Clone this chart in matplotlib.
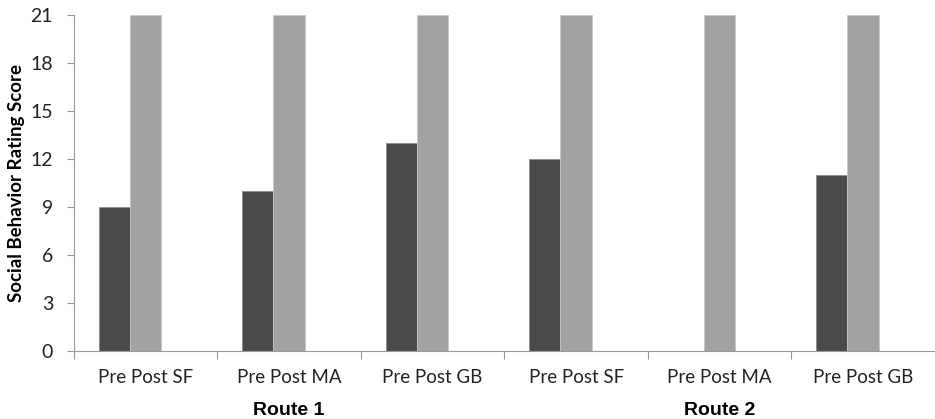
import numpy as np
import matplotlib.pyplot as plt

# values (Pre MA in route 2 has no bar)
categories = ["Pre Post SF", "Pre Post MA", "Pre Post GB",
              "Pre Post SF", "Pre Post MA", "Pre Post GB"]
pre = [9, 10, 13, 12, np.nan, 11]
post = [21, 21, 21, 21, 21, 21]
routes = ["Route 1", "Route 2"]
yticks = [0, 3, 6, 9, 12, 15, 18, 21]

fig = plt.figure(figsize=(9.35, 4.19), dpi=100)
ax = fig.add_axes([0.079, 0.162, 0.921, 0.802])

pos = np.arange(len(categories))
w = 0.217
# the pair of bars sits a bit left of the category centre, as in the source
ax.bar(pos + 0.39 - w / 2, pre, width=w, color="#4a4a4a", edgecolor="#8a8a8a", linewidth=0.6)
ax.bar(pos + 0.39 + w / 2, post, width=w, color="#a2a2a2", edgecolor="#c8c8c8", linewidth=0.6)

ax.set_xlim(0, len(categories))
ax.set_ylim(0, 21)
ax.set_yticks(yticks)
ax.set_yticklabels([str(t) for t in yticks], fontsize=14, family="Lato", color="#222222")

# boundary ticks between categories, labels in the middle
ax.set_xticks(np.arange(len(categories) + 1))
ax.set_xticklabels([])
ax.set_xticks(pos + 0.5, minor=True)
ax.set_xticklabels(categories, minor=True, fontsize=13.5, family="Lato", color="#222222")
ax.tick_params(axis="x", which="major", length=6, color="#999999")
ax.tick_params(axis="x", which="minor", length=0, pad=13)
ax.tick_params(axis="y", length=5, color="#999999", pad=10)

for s in ["top", "right"]:
    ax.spines[s].set_visible(False)
for s in ["left", "bottom"]:
    ax.spines[s].set_color("#999999")

ax.set_ylabel("Social Behavior Rating Score", fontsize=13.5, fontweight="bold",
              family="Lato", labelpad=4)

for i, r in enumerate(routes):
    ax.text(1.5 + 3 * i, -0.178, r, transform=ax.get_xaxis_transform(),
            ha="center", va="center", fontsize=14, fontweight="bold",
            family="Liberation Sans")

fig.savefig("out.png", dpi=100)
